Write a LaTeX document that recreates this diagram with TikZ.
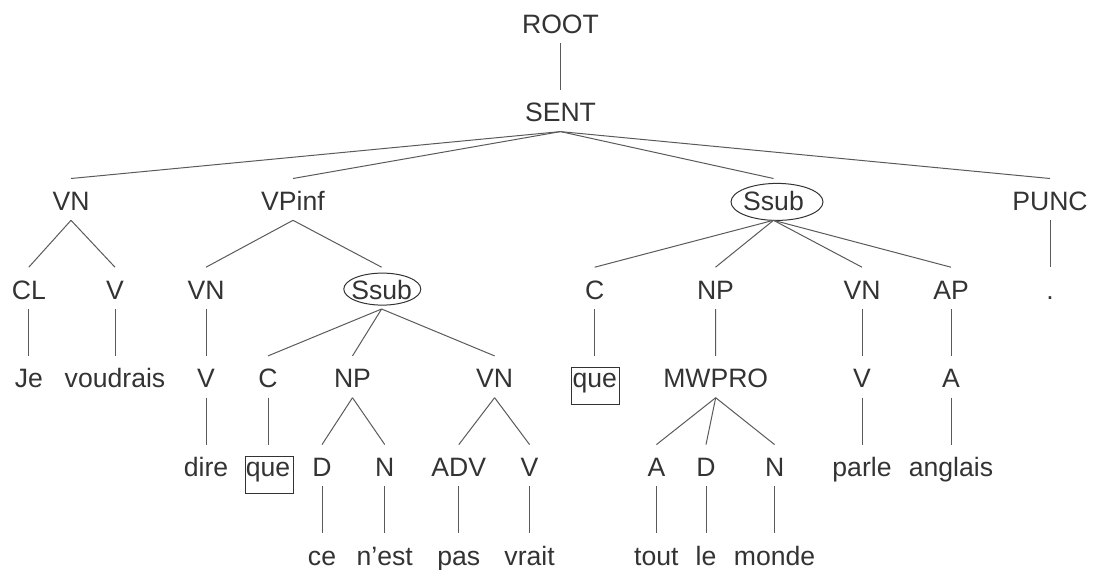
\documentclass[tikz,border=0pt]{standalone}
\usepackage{fontspec}
\setmainfont{Liberation Sans}
\usetikzlibrary{shapes.geometric}
\definecolor{tgray}{HTML}{333333}
\definecolor{lgray}{HTML}{5A5A5A}
\tikzset{
  cat/.style={anchor=base,inner xsep=0pt,inner ysep=0pt,text height=15.75pt,text depth=4.75pt,
              text=tgray,font=\fontsize{13.3}{16}\selectfont},
  br/.style={draw=lgray,line width=0.5pt},
  ring/.style n args={4}{label={[draw=tgray,line width=0.5pt,ellipse,inner sep=0pt,
              minimum width=#1,minimum height=#2,xshift=#3,yshift=#4]center:{}}},
  qbox/.style={label={[draw=tgray,line width=0.5pt,inner sep=0pt,minimum width=24pt,
              minimum height=18.5pt,xshift=0.5pt,yshift=-4.5pt]center:{}}},
}
\begin{document}
\begin{tikzpicture}[x=0.5pt,y=-0.5pt]
\useasboundingbox (0,0) rectangle (1093,569);
% levels (baselines)
\def\la{33}\def\lb{121.7}\def\lc{210.4}\def\ld{299.1}\def\le{387.8}\def\lf{476.5}\def\lg{565.2}
\node[cat] (root) at (560.5,\la) {ROOT};
\node[cat] (sent) at (560.5,\lb) {SENT};
% phrases
\node[cat] (vn) at (71,\lc) {VN};
\node[cat] (vpinf) at (293,\lc) {VPinf};
\node[cat,ring={46pt}{18.5pt}{1.75pt}{-1.25pt}] (ssub) at (773.5,\lc) {Ssub};
\node[cat] (punc) at (1050,\lc) {PUNC};
\node[cat] (cl) at (28.8,\ld) {CL};
\node[cat] (v) at (115,\ld) {V};
\node[cat] (vnb) at (206,\ld) {VN};
\node[cat,ring={38.5pt}{16pt}{0.35pt}{-0.5pt}] (ssubb) at (381.6,\ld) {Ssub};
\node[cat] (c) at (594.7,\ld) {C};
\node[cat] (np) at (715.5,\ld) {NP};
\node[cat] (vnc) at (862,\ld) {VN};
\node[cat] (ap) at (951,\ld) {AP};
\node[cat] (dot) at (1050,\ld) {.};
\node[cat] (je) at (28.8,\le) {Je};
\node[cat] (voudrais) at (115,\le) {voudrais};
\node[cat] (vb) at (206,\le) {V};
\node[cat] (cb) at (268,\le) {C};
\node[cat] (npb) at (352.5,\le) {NP};
\node[cat] (vnd) at (494.6,\le) {VN};
\node[cat,qbox] (queb) at (594.7,\le) {que};
\node[cat] (mwpro) at (715.7,\le) {MWPRO};
\node[cat] (vc) at (862,\le) {V};
\node[cat] (a) at (951,\le) {A};
\node[cat] (dire) at (206,\lf) {dire};
\node[cat,qbox] (que) at (268,\lf) {que};
\node[cat] (d) at (322,\lf) {D};
\node[cat] (n) at (384.8,\lf) {N};
\node[cat] (adv) at (458.8,\lf) {ADV};
\node[cat] (vd) at (529.6,\lf) {V};
\node[cat] (ab) at (656.4,\lf) {A};
\node[cat] (db) at (706,\lf) {D};
\node[cat] (nb) at (774.6,\lf) {N};
\node[cat] (parle) at (862,\lf) {parle};
\node[cat] (anglais) at (951,\lf) {anglais};
% words
\node[cat] (ce) at (322,\lg) {ce};
\node[cat] (nest) at (384.8,\lg) {n’est};
\node[cat] (pas) at (458.8,\lg) {pas};
\node[cat] (vrait) at (529.6,\lg) {vrait};
\node[cat] (tout) at (656.4,\lg) {tout};
\node[cat] (le) at (706,\lg) {le};
\node[cat] (monde) at (774.6,\lg) {monde};
% branches
\foreach \p/\q in {root/sent,sent/vn,sent/vpinf,sent/ssub,sent/punc,vn/cl,vn/v,vpinf/vnb,vpinf/ssubb,
  ssub/c,ssub/np,ssub/vnc,ssub/ap,punc/dot,cl/je,v/voudrais,vnb/vb,ssubb/cb,ssubb/npb,ssubb/vnd,
  c/queb,np/mwpro,vnc/vc,ap/a,vb/dire,cb/que,npb/d,npb/n,vnd/adv,vnd/vd,mwpro/ab,mwpro/db,mwpro/nb,
  vc/parle,a/anglais,d/ce,n/nest,adv/pas,vd/vrait,ab/tout,db/le,nb/monde}
  \draw[br] (\p.south) -- (\q.north);
\end{tikzpicture}
\end{document}
